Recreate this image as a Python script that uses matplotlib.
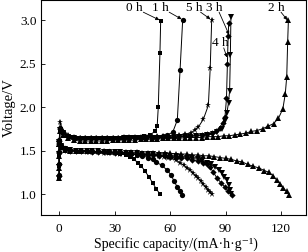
import matplotlib
matplotlib.use("Agg")
import matplotlib.pyplot as plt

plt.rcParams['font.family'] = ['Liberation Serif', 'DejaVu Serif']

# ---------------- data (specific capacity mA·h/g, voltage V) ----------------
cap_0h_chg = [0, 0, 0, 0, 0.5, 2, 4, 7, 10, 13,
              16, 19, 22, 25, 28, 31, 34, 37, 40, 43,
              46, 49, 51.9, 53, 53.6, 54.5, 54.9]
v_0h_chg = [1.20, 1.32, 1.45, 1.58, 1.74, 1.70, 1.67, 1.66, 1.65, 1.65,
            1.65, 1.65, 1.65, 1.65, 1.65, 1.65, 1.65, 1.66, 1.66, 1.66,
            1.67, 1.68, 1.72, 1.78, 2.00, 2.62, 2.99]
cap_0h_dis = [0, 1, 3, 6, 9, 12, 15, 18, 21, 24,
              27, 30, 33, 36, 38.5, 40.5, 42.5, 44.5, 46.5, 48.5,
              50.5, 52.5, 54.5]
v_0h_dis = [1.58, 1.55, 1.52, 1.51, 1.50, 1.50, 1.49, 1.49, 1.49, 1.48,
            1.48, 1.47, 1.46, 1.45, 1.43, 1.40, 1.36, 1.32, 1.26, 1.20,
            1.13, 1.06, 1.00]

cap_1h_chg = [0, 0, 0, 0, 0.5, 2, 5, 8, 11, 14,
              17, 20, 23, 26, 29, 32, 35, 38, 41, 44,
              47, 50, 53, 56, 58.5, 61.4, 63.9, 65.4, 66.8]
v_1h_chg = [1.22, 1.35, 1.48, 1.62, 1.76, 1.71, 1.67, 1.65, 1.64, 1.64,
            1.64, 1.64, 1.64, 1.64, 1.64, 1.64, 1.65, 1.65, 1.65, 1.65,
            1.66, 1.66, 1.66, 1.67, 1.68, 1.71, 1.85, 2.43, 3.00]
cap_1h_dis = [0, 1, 3, 6, 9, 12, 15, 18, 21, 24,
              27, 30, 33, 36, 39, 42, 45, 48.1, 50.5, 52.4,
              55.4, 58.2, 60.5, 62.1, 63.9, 65.3, 66.7]
v_1h_dis = [1.59, 1.56, 1.53, 1.51, 1.50, 1.50, 1.50, 1.49, 1.49, 1.49,
            1.49, 1.48, 1.48, 1.47, 1.46, 1.45, 1.44, 1.42, 1.40, 1.37,
            1.33, 1.28, 1.22, 1.15, 1.08, 1.03, 0.99]

cap_2h_chg = [0, 0, 0, 0, 0.5, 2, 5, 8, 11, 14,
              17, 20, 23, 26, 29, 32, 35, 38, 41, 44,
              47, 50, 53, 56, 59, 62, 65, 68, 71, 74,
              77, 80, 83, 86, 89, 92, 95, 98, 101, 104,
              107, 110, 113, 116, 118.6, 121, 122.3, 123.1, 123.6, 124]
v_2h_chg = [1.18, 1.30, 1.44, 1.58, 1.72, 1.68, 1.64, 1.62, 1.61, 1.61,
            1.61, 1.61, 1.61, 1.61, 1.62, 1.62, 1.62, 1.62, 1.62, 1.63,
            1.63, 1.63, 1.63, 1.64, 1.64, 1.64, 1.64, 1.65, 1.65, 1.65,
            1.65, 1.66, 1.66, 1.66, 1.67, 1.67, 1.68, 1.69, 1.70, 1.72,
            1.73, 1.75, 1.78, 1.81, 1.87, 1.98, 2.15, 2.35, 2.75, 3.00]
cap_2h_dis = [0, 1, 3, 6, 9, 12, 15, 18, 21, 24,
              27, 30, 33, 36, 39, 42, 45, 48, 51, 54,
              57, 60, 63, 66, 69, 72, 75, 78, 81, 84,
              87, 90, 93, 96, 99, 102, 105, 108, 111, 113.5,
              115.8, 117.7, 119.6, 121.3, 123, 124.5]
v_2h_dis = [1.57, 1.54, 1.51, 1.50, 1.50, 1.49, 1.49, 1.49, 1.49, 1.49,
            1.48, 1.48, 1.48, 1.48, 1.48, 1.48, 1.47, 1.47, 1.47, 1.47,
            1.47, 1.47, 1.46, 1.46, 1.46, 1.45, 1.45, 1.44, 1.44, 1.43,
            1.42, 1.41, 1.40, 1.38, 1.37, 1.34, 1.32, 1.30, 1.27, 1.25,
            1.21, 1.16, 1.12, 1.07, 1.03, 0.99]

cap_3h_chg = [0, 0, 0, 0, 0.5, 2, 5, 8, 11, 14,
              17, 20, 23, 26, 29, 32, 35, 38, 41, 44,
              47, 50, 53, 56, 59, 62, 65, 68, 71, 74,
              77, 80, 83, 85.5, 87.9, 89.7, 90.7, 91.6, 92.2, 92.6,
              92.9]
v_3h_chg = [1.19, 1.31, 1.46, 1.60, 1.74, 1.70, 1.66, 1.64, 1.63, 1.63,
            1.63, 1.63, 1.63, 1.63, 1.63, 1.63, 1.64, 1.64, 1.64, 1.64,
            1.64, 1.65, 1.65, 1.65, 1.65, 1.65, 1.66, 1.66, 1.66, 1.67,
            1.67, 1.68, 1.69, 1.71, 1.75, 1.84, 1.93, 2.05, 2.19, 2.60,
            3.04]
cap_3h_dis = [0, 1, 3, 6, 9, 12, 15, 18, 21, 24,
              27, 30, 33, 36, 39, 42, 45, 48, 51, 54,
              57, 60, 63, 66, 69, 72, 75, 77.5, 79.8, 82,
              84.3, 86.2, 87.9, 89.3, 90.6, 91.6, 92.4, 93.0]
v_3h_dis = [1.58, 1.55, 1.52, 1.51, 1.50, 1.49, 1.49, 1.49, 1.49, 1.48,
            1.48, 1.48, 1.48, 1.47, 1.47, 1.47, 1.46, 1.46, 1.46, 1.45,
            1.45, 1.44, 1.44, 1.43, 1.42, 1.41, 1.40, 1.38, 1.36, 1.34,
            1.31, 1.28, 1.24, 1.20, 1.16, 1.10, 1.05, 1.00]

cap_4h_chg = [0, 0, 0, 0, 0.5, 2, 5, 8, 11, 14,
              17, 20, 23, 26, 29, 32, 35, 38, 41, 44,
              47, 50, 53, 56, 59, 62, 65, 68, 71, 74,
              77, 80, 82.5, 84.8, 86.8, 88.4, 89.7, 90.5, 91.0, 91.4,
              91.7]
v_4h_chg = [1.21, 1.34, 1.47, 1.61, 1.75, 1.71, 1.67, 1.65, 1.64, 1.64,
            1.64, 1.64, 1.64, 1.64, 1.64, 1.64, 1.64, 1.65, 1.65, 1.65,
            1.65, 1.65, 1.66, 1.66, 1.66, 1.66, 1.67, 1.67, 1.67, 1.68,
            1.68, 1.69, 1.70, 1.72, 1.76, 1.82, 1.89, 2.10, 2.50, 2.82,
            2.96]
cap_4h_dis = [0, 1, 3, 6, 9, 12, 15, 18, 21, 24,
              27, 30, 33, 36, 39, 42, 45, 48, 51, 54,
              57, 60, 63, 66, 69, 72, 75, 78, 80, 81.6,
              83.4, 85.2, 87.5, 89.7, 91.5, 93.3]
v_4h_dis = [1.57, 1.54, 1.51, 1.50, 1.49, 1.49, 1.49, 1.48, 1.48, 1.48,
            1.48, 1.47, 1.47, 1.47, 1.46, 1.46, 1.46, 1.45, 1.45, 1.44,
            1.44, 1.43, 1.42, 1.42, 1.41, 1.39, 1.38, 1.36, 1.34, 1.31,
            1.25, 1.19, 1.13, 1.08, 1.03, 0.99]

cap_5h_chg = [0, 0, 0, 0, 0.5, 2, 5, 8, 11, 14,
              17, 20, 23, 26, 29, 32, 35, 38, 41, 44,
              47, 50, 53, 56, 59, 62, 65, 68, 71.1, 73.5,
              75.3, 78, 80.7, 81.7, 82.5]
v_5h_chg = [1.20, 1.33, 1.47, 1.61, 1.83, 1.72, 1.68, 1.66, 1.65, 1.65,
            1.65, 1.65, 1.65, 1.65, 1.65, 1.65, 1.66, 1.66, 1.66, 1.66,
            1.66, 1.67, 1.67, 1.67, 1.67, 1.68, 1.68, 1.69, 1.70, 1.74,
            1.77, 1.86, 2.02, 2.45, 3.00]
cap_5h_dis = [0, 1, 3, 6, 9, 12, 15, 18, 21, 24,
              27, 30, 33, 36, 39, 42, 45, 48, 51, 54,
              56.5, 59, 61, 63.2, 65.4, 67.4, 69.2, 70.8, 72.3, 73.8,
              75.2, 76.6, 78, 79.2, 80.4, 81.5, 82.5]
v_5h_dis = [1.58, 1.55, 1.52, 1.50, 1.49, 1.49, 1.48, 1.48, 1.48, 1.47,
            1.47, 1.47, 1.46, 1.46, 1.46, 1.45, 1.45, 1.45, 1.44, 1.44,
            1.43, 1.42, 1.41, 1.39, 1.36, 1.33, 1.30, 1.28, 1.24, 1.21,
            1.18, 1.15, 1.11, 1.08, 1.05, 1.02, 1.00]

labels = ["0 h", "1 h", "2 h", "3 h", "4 h", "5 h"]
x_ticks = [0, 30, 60, 90, 120]
y_ticks = [1.0, 1.5, 2.0, 2.5, 3.0]

# label text positions / arrow targets (data coords)
label_text_pos = [(40.4, 3.14), (55.0, 3.14), (117.3, 3.14), (83.8, 3.14), (87.0, 2.74), (73.0, 3.14)]
label_arrow_to = [(54.2, 3.0), (66.2, 3.01), (123.4, 3.0), (91.9, 2.83), (90.8, 2.57), (81.8, 3.01)]
label_arrow_from = [(45.5, 3.09), (59.5, 3.09), (120.0, 3.09), (86.5, 3.09), (89.0, 2.68), (76.5, 3.09)]

# ---------------- plotting ----------------
fig = plt.figure(figsize=(3.08, 2.52), dpi=100)
ax = fig.add_axes([0.134, 0.147, 0.860, 0.853])

series = [
    (cap_0h_chg, v_0h_chg, cap_0h_dis, v_0h_dis, 's', 3.5),
    (cap_1h_chg, v_1h_chg, cap_1h_dis, v_1h_dis, 'o', 3.8),
    (cap_2h_chg, v_2h_chg, cap_2h_dis, v_2h_dis, '^', 4.2),
    (cap_3h_chg, v_3h_chg, cap_3h_dis, v_3h_dis, 'v', 4.2),
    (cap_4h_chg, v_4h_chg, cap_4h_dis, v_4h_dis, 'D', 3.2),
    (cap_5h_chg, v_5h_chg, cap_5h_dis, v_5h_dis, '*', 4.6),
]
for cc, vc, cd, vd, mk, ms in series:
    ax.plot(cc, vc, color='black', lw=0.7, marker=mk, ms=ms, mew=0)
    ax.plot(cd, vd, color='black', lw=0.7, marker=mk, ms=ms, mew=0)

for lab, tp, af, at in zip(labels, label_text_pos, label_arrow_from, label_arrow_to):
    ax.text(tp[0], tp[1], lab, ha='center', va='center', fontsize=9.5)
    ax.annotate('', xy=at, xytext=af,
                arrowprops=dict(arrowstyle='-|>', lw=0.6, color='black',
                                mutation_scale=5, shrinkA=0, shrinkB=0))

ax.set_xlim(-9.7, 133.6)
ax.set_ylim(0.76, 3.23)
ax.set_xticks(x_ticks)
ax.set_yticks(y_ticks)
ax.set_xticklabels([str(t) for t in x_ticks])
ax.set_yticklabels([f"{t:.1f}" for t in y_ticks])
ax.tick_params(direction='in', length=3, width=0.6, labelsize=9.5)
ax.tick_params(axis='x', pad=6)
ax.tick_params(axis='y', pad=3.5)
for s in ax.spines.values():
    s.set_linewidth(0.8)

fig.text(0.570, 0.004, 'Specific capacity/(mA·h·g\u207b\u00b9)', fontsize=10,
         ha='center', va='bottom')
ax.set_ylabel('Voltage/V', fontsize=10.5, labelpad=3)

fig.savefig('out.png', dpi=100)
